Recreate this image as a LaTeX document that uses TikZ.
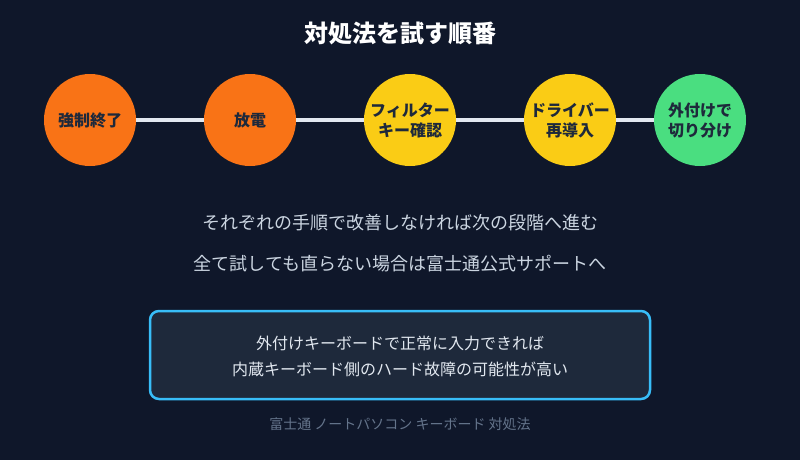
\documentclass[tikz,border=0pt]{standalone}
\usepackage{fontspec}
\setmainfont{Noto Sans CJK JP}
\usepackage{tikz}
\usetikzlibrary{shapes}
\usetikzlibrary{shapes.geometric}

\definecolor{bg}{HTML}{0F172A}
\definecolor{boxbg}{HTML}{1E293B}
\definecolor{boxline}{HTML}{38BDF8}
\definecolor{stepline}{HTML}{E2E8F0}
\definecolor{orangec}{HTML}{F97316}
\definecolor{yellowc}{HTML}{FACC15}
\definecolor{greenc}{HTML}{4ADE80}
\definecolor{darktext}{HTML}{1E293B}
\definecolor{softtext}{HTML}{CBD5E1}
\definecolor{foottext}{HTML}{64748B}

\tikzset{
	stepnode/.style={circle, minimum size=92pt, inner sep=0pt, align=center, text=darktext, font=\fontsize{16}{20}\selectfont\bfseries},
	linkline/.style={draw=stepline, line width=4pt},
	noteline/.style={text=softtext, font=\fontsize{18}{21}\selectfont}
}

\begin{document}
\begin{tikzpicture}[x=1pt, y=-1pt]
					\fill[bg] (0,0) rectangle (800,460);
					\useasboundingbox (0,0) rectangle (800,460);
					\node[text=white, font=\fontsize{24}{28}\selectfont\bfseries] (title) at (400,33) {対処法を試す順番};
					\node[stepnode, fill=orangec] (1) at (90,120) {強制終了};
					\node[stepnode, fill=orangec] (2) at (250,120) {放電};
					\node[stepnode, fill=yellowc] (3) at (410,120) {フィルター\\キー確認};
					\node[stepnode, fill=yellowc] (4) at (570,120) {ドライバー\\再導入};
					\node[stepnode, fill=greenc] (5) at (700,120) {外付けで\\切り分け};
					\draw[linkline] (1) -- (2);
					\draw[linkline] (2) -- (3);
					\draw[linkline] (3) -- (4);
					\draw[linkline] (4) -- (5);
					\node[noteline] (n1) at (400,223) {それぞれの手順で改善しなければ次の段階へ進む};
					\node[noteline] (n2) at (400,264) {全て試しても直らない場合は富士通公式サポートへ};
					\draw[fill=boxbg, draw=boxline, line width=2.5pt, rounded corners=9pt] (150,311) rectangle (650,399);
					\node[text=stepline, align=center, font=\fontsize{16}{26}\selectfont] (box) at (400,356) {外付けキーボードで正常に入力できれば\\内蔵キーボード側のハード故障の可能性が高い};
					\node[text=foottext, font=\fontsize{14}{17}\selectfont] (foot) at (400,424) {富士通 ノートパソコン キーボード 対処法};
				\end{tikzpicture}
\end{document}
